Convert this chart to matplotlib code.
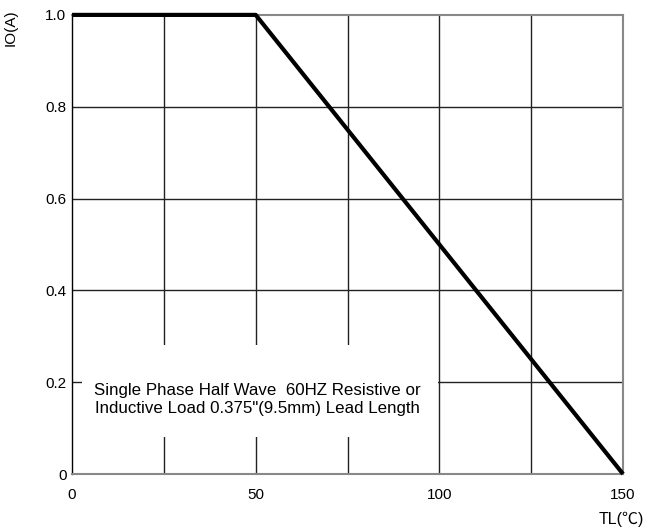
import matplotlib.pyplot as plt
from matplotlib.patches import Rectangle

plt.rcParams['font.family'] = ['Liberation Sans', 'DejaVu Sans']

# derating curve
temp = [0, 50, 150]
current = [1.0, 1.0, 0.0]

x_ticks = [0, 50, 100, 150]
x_labels = ['0', '50', '100', '150']
y_ticks = [0, 0.2, 0.4, 0.6, 0.8, 1.0]
y_labels = ['0', '0.2', '0.4', '0.6', '0.8', '1.0']
x_grid = [25, 50, 75, 100, 125]
y_grid = [0.2, 0.4, 0.6, 0.8]

note = 'Single Phase Half Wave  60HZ Resistive or\nInductive Load 0.375"(9.5mm) Lead Length'

fig = plt.figure(figsize=(6.49, 5.32), dpi=100)
ax = fig.add_axes([0.111, 0.109, 0.849, 0.863])

for x in x_grid:
    ax.axvline(x, color='#222222', lw=1.0, zorder=1)
for y in y_grid:
    ax.axhline(y, color='#222222', lw=1.0, zorder=1)

# white area behind the note hides the grid
ax.add_patch(Rectangle((2.8, 0.08), 96.9, 0.2, facecolor='white',
                       edgecolor='none', zorder=2))
ax.text(50.5, 0.162, note, ha='center', va='center', fontsize=12.2,
        linespacing=1.25, multialignment='center', zorder=3)

ax.plot(temp, current, color='black', lw=3, solid_capstyle='butt', zorder=4,
        clip_on=False)

ax.set_xlim(0, 150)
ax.set_ylim(0, 1.0)
ax.set_xticks(x_ticks)
ax.set_xticklabels(x_labels)
ax.set_yticks(y_ticks)
ax.set_yticklabels(y_labels)
ax.tick_params(length=0, labelsize=11)
ax.tick_params(axis='x', pad=10)
ax.tick_params(axis='y', pad=4)

for side in ['top', 'right', 'bottom']:
    ax.spines[side].set_color('#888888')
    ax.spines[side].set_linewidth(1.5)
ax.spines['left'].set_color('black')
ax.spines['left'].set_linewidth(1.0)

fig.text(0.017, 0.982, 'IO(A)', rotation=90, ha='center', va='top', fontsize=11)
fig.text(0.958, 0.01, 'TL(℃)', ha='center', va='bottom', fontsize=11.5,
         family=['Liberation Sans', 'Noto Sans CJK SC', 'DejaVu Sans'])

fig.savefig('out.png', dpi=100)
